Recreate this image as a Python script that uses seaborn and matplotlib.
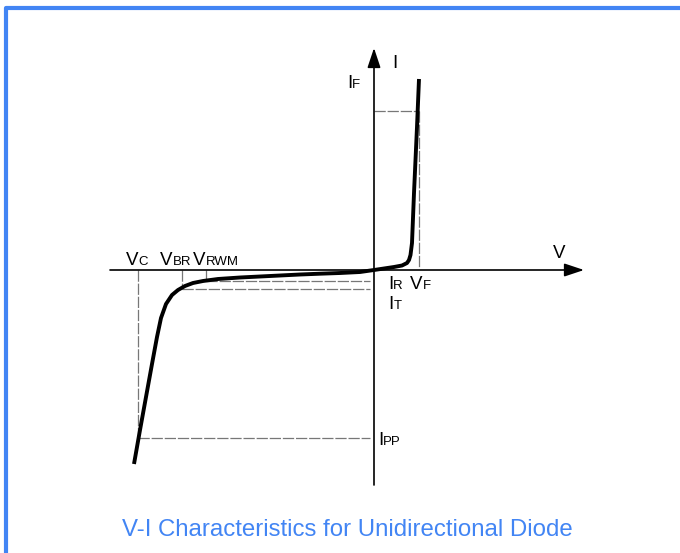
import matplotlib
matplotlib.use('Agg')
import matplotlib.pyplot as plt
import matplotlib.patches as patches
import seaborn as sns
import pandas as pd

# V-I curve of a unidirectional TVS diode (arbitrary units, origin at axis crossing)
reverse_v = [-240, -234, -228, -222, -217, -213, -208, -202, -196, -189, -181,
             -171, -156, -134, -114, -94, -74, -54, -34, -14, 0]
reverse_i = [-194, -160, -127, -94, -67, -48, -34, -25, -20, -16, -13,
             -11, -9, -7.5, -6.5, -5.5, -4.5, -3.7, -3, -2, 0]
forward_v = [0, 10, 20, 28, 33, 35, 36.5, 38, 40, 43, 45]
forward_i = [0, 1.5, 3, 4.5, 7, 10, 15, 27, 77, 143, 191]

# reference levels
v_c, v_br, v_rwm, v_f = -236, -192, -168, 45
i_f, i_r, i_t, i_pp = 159, -11, -19, -168

# labels: main letter, subscript, position
labels = [
    ('I', '', 18, 202),
    ('I', 'F', -27, 182),
    ('V', '', 179, 12),
    ('V', 'C', -248, 5),
    ('V', 'BR', -214, 5),
    ('V', 'RWM', -181, 5),
    ('I', 'R', 14, -19),
    ('V', 'F', 36, -19),
    ('I', 'T', 14, -39),
    ('I', 'PP', 4, -175),
]
title = 'V-I Characteristics for Unidirectional Diode'

sns.set_theme(style='white')
plt.rcParams['font.family'] = ['Liberation Sans', 'DejaVu Sans']

fig = plt.figure(figsize=(6.8, 5.53), dpi=100)
ax = fig.add_axes([0, 0, 1, 1])
ax.set_xlim(-374, 306)
ax.set_ylim(-283, 270)
ax.axis('off')

# frame border (top and left visible)
fig.patches.append(patches.Rectangle((6 / 680, -0.1), 1.2, 1 - 8 / 553 + 0.1,
                                     transform=fig.transFigure, fill=False,
                                     edgecolor='#4285F4', lw=3, joinstyle='round'))

# axes with arrows
arrow = dict(arrowstyle='-|>,head_length=0.6,head_width=0.2', color='black',
             lw=1.2, shrinkA=0, shrinkB=0, mutation_scale=20)
ax.annotate('', xy=(210, 0), xytext=(-264, 0), arrowprops=arrow)
ax.annotate('', xy=(0, 222), xytext=(0, -215), arrowprops=arrow)

# dashed reference lines
dash = dict(color='#777777', lw=0.9, ls=(0, (9, 1.5)))
ax.plot([0, v_f], [i_f, i_f], **dash)
ax.plot([v_f, v_f], [i_f, 2], **dash)
ax.plot([v_c, v_c], [0, i_pp], **dash)
ax.plot([v_c, -4], [i_pp, i_pp], **dash)
ax.plot([v_br, v_br], [0, i_t], **dash)
ax.plot([v_br, -4], [i_t, i_t], **dash)
ax.plot([v_rwm, v_rwm], [0, i_r], **dash)
ax.plot([v_rwm, -4], [i_r, i_r], **dash)

# the curve
curve = pd.DataFrame({'V': reverse_v + forward_v[1:], 'I': reverse_i + forward_i[1:]})
sns.lineplot(data=curve, x='V', y='I', sort=False, color='black', lw=2.8,
             ax=ax, solid_capstyle='butt', solid_joinstyle='round')

# labels with baseline-aligned small subscripts
fig.canvas.draw()
renderer = fig.canvas.get_renderer()
for main, sub, x, y in labels:
    t = ax.text(x, y, main, fontsize=13.5, color='black', va='baseline', ha='left')
    if sub:
        bb = t.get_window_extent(renderer)
        ax.annotate(sub, xy=(bb.x1, y), xycoords=('figure pixels', 'data'),
                    fontsize=9.5, va='baseline', ha='left', color='black',
                    annotation_clip=False)

ax.text(-27, -260, title, fontsize=17.3, color='#4285F4', ha='center', va='center')

fig.savefig('out.png', dpi=100)
